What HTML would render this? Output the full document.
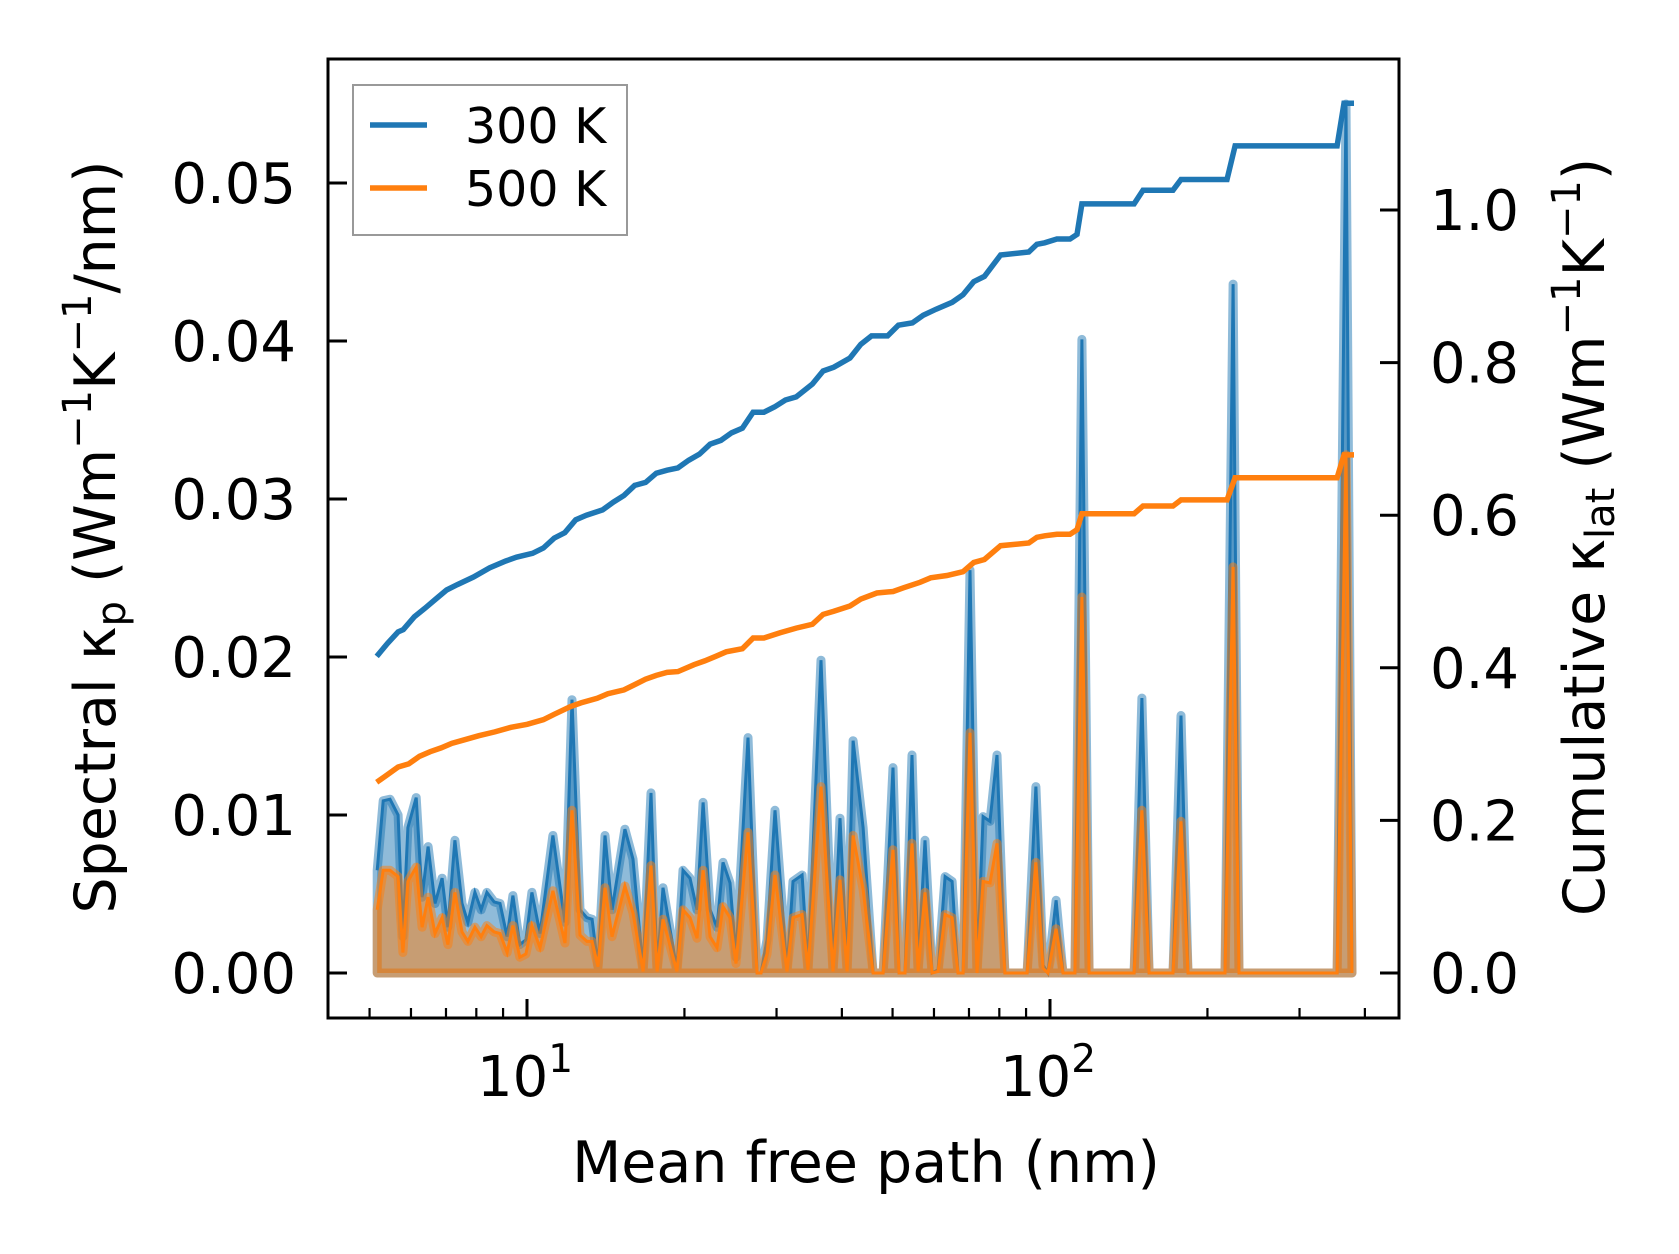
<!DOCTYPE html>
<html><head><meta charset="utf-8"><style>
html,body{margin:0;padding:0;background:#fff;}
svg{display:block;font-family:"DejaVu Sans","Liberation Sans",sans-serif;}
</style></head><body>
<svg id="chart" width="1679" height="1254" viewBox="0 0 1679 1254" xmlns="http://www.w3.org/2000/svg">
<rect width="1679" height="1254" fill="#fff"/>
<g id="plot"></g>
<g id="axes"></g>
</svg>
<script>
// Spectral data (x in nm, y in W m^-1 K^-1 / nm)
const specX = [5.17,5.31,5.47,5.67,5.79,5.92,6.14,6.30,6.47,6.67,6.88,7.06,7.28,7.51,7.71,7.95,8.17,8.38,8.65,8.88,9.16,9.40,9.69,9.95,10.22,10.59,11.21,11.82,12.19,12.63,13.02,13.32,13.67,14.10,14.54,15.39,15.95,16.67,17.26,17.73,18.20,19.35,19.87,20.50,21.14,21.71,22.39,23.08,23.70,24.44,25.10,26.46,27.54,28.02,28.77,29.80,31.42,32.26,33.57,34.46,36.48,38.46,39.67,40.93,42.02,43.91,45.89,47.96,50.10,51.45,52.82,54.47,55.94,57.68,59.51,61.10,63.0,64.98,66.7,68.2,70.3,72.5,74.5,76.8,79.2,82.0,90.4,94.0,97.0,99.1,102.7,105.9,108.3,111.6,115.1,118.8,144.8,149.9,154.7,171.9,178.0,183.6,216.1,223.9,229.8,353.9,368.1,378.0];
const spec300 = [.0065,.0109,.0110,.0100,.0023,.0092,.0111,.0048,.0080,.0044,.0060,.0029,.0084,.0044,.0032,.0051,.0040,.0051,.0045,.0044,.0023,.0049,.0018,.0021,.0051,.0025,.0087,.0032,.0173,.0040,.0035,.0034,.0004,.0087,.0040,.0091,.0072,.0002,.0114,.0002,.0054,.0002,.0065,.0060,.0040,.0108,.0040,.0029,.0070,.0057,.0010,.0149,0,0,.0021,.0103,.0002,.0058,.0062,.0003,.0198,.0002,.0098,.0002,.0147,.0092,0,0,.0130,0,0,.0138,.0002,.0084,0,.0002,.0061,.0058,0,0,.0255,0,.0099,.0096,.0138,0,0,.0118,.0005,0,.0046,0,0,0,.0401,0,0,.0174,0,0,.0163,0,0,.0436,0,0,.0550,0];
const spec500 = [.0040,.0065,.0065,.0061,.0013,.0058,.0067,.0029,.0048,.0025,.0035,.0018,.0051,.0026,.0020,.0029,.0023,.0030,.0026,.0025,.0013,.0030,.0010,.0012,.0030,.0016,.0052,.0019,.0103,.0024,.0020,.0020,.0004,.0054,.0023,.0055,.0038,.0001,.0068,.0001,.0034,.0001,.0040,.0035,.0022,.0065,.0023,.0016,.0042,.0035,.0006,.0089,0,0,.0012,.0062,.0001,.0035,.0037,.0002,.0118,.0001,.0059,.0001,.0087,.0053,0,0,.0078,0,0,.0082,.0001,.0051,0,.0001,.0037,.0035,0,0,.0152,0,.0058,.0057,.0082,0,0,.0070,.0003,0,.0028,0,0,0,.0238,0,0,.0103,0,0,.0096,0,0,.0257,0,0,.0328,0];
// Cumulative data (W m^-1 K^-1)
const cum300X = [5.16,5.41,5.67,5.80,6.09,6.38,6.69,7.02,7.36,7.90,8.48,9.11,9.55,10.25,10.75,11.27,11.81,12.39,12.99,13.95,14.62,15.33,16.07,16.86,17.67,18.53,19.43,20.37,21.36,22.39,23.48,24.61,25.81,27.06,28.38,29.75,31.20,32.71,35.13,36.83,38.61,41.46,43.47,45.58,48.93,51.31,54.57,57.23,60.56,65.02,68.17,71.48,74.92,80.45,91.1,94.4,97.7,103.1,109.2,112.6,115.1,144.8,150.6,171.9,178.0,218.0,225.9,353.9,364.8,381.3];
const cum300 = [.415,.432,.447,.450,.467,.478,.490,.502,.509,.519,.531,.540,.545,.550,.557,.570,.577,.594,.600,.607,.617,.626,.639,.643,.655,.659,.662,.672,.680,.693,.698,.708,.714,.735,.735,.742,.751,.755,.772,.789,.794,.806,.824,.835,.835,.849,.852,.862,.870,.879,.889,.906,.913,.941,.945,.955,.957,.962,.962,.968,1.008,1.008,1.026,1.026,1.040,1.040,1.084,1.084,1.140,1.140];
const cum500X = [5.16,5.41,5.67,5.94,6.23,6.53,6.85,7.18,7.53,8.09,8.68,9.32,10.01,10.75,11.27,12.10,12.68,13.62,14.28,15.33,16.07,16.86,17.67,18.53,19.43,20.86,21.87,22.93,24.04,25.81,27.06,28.38,30.47,32.71,35.13,36.83,38.61,41.46,43.47,46.67,50.11,52.53,56.41,59.14,63.50,68.17,71.48,74.92,80.45,91.1,94.4,97.7,103.1,109.2,112.6,115.1,144.8,150.6,171.9,178.0,218.0,225.9,353.9,364.8,381.3];
const cum500 = [.250,.260,.270,.274,.284,.290,.295,.301,.305,.311,.316,.322,.326,.332,.339,.349,.354,.360,.366,.371,.378,.385,.390,.394,.395,.404,.409,.415,.421,.425,.439,.439,.446,.452,.457,.470,.474,.481,.490,.498,.500,.505,.512,.518,.521,.526,.538,.542,.560,.5636,.571,.573,.575,.575,.581,.602,.602,.612,.612,.620,.620,.649,.649,.679,.679];
const leftTicks = [0,0.01,0.02,0.03,0.04,0.05];
const leftTickLabels = ["0.00","0.01","0.02","0.03","0.04","0.05"];
const rightTicks = [0,0.2,0.4,0.6,0.8,1.0];
const rightTickLabels = ["0.0","0.2","0.4","0.6","0.8","1.0"];
const xMajor = [10,100];
const xMinor = [5,6,7,8,9,20,30,40,50,60,70,80,90,200,300,400];

const NS = "http://www.w3.org/2000/svg";
const L = 328, R = 1399, T = 59, B = 1018;
function xPx(v){ return 527 + (Math.log10(v) - 1) * 523; }
function yL(v){ return 973 - v * 15800; }
function yR(v){ return 973 - v * 763; }
function mk(tag, attrs, parent){ const e = document.createElementNS(NS, tag); for (const k in attrs) e.setAttribute(k, attrs[k]); parent.appendChild(e); return e; }

const plot = document.getElementById('plot');
const axes = document.getElementById('axes');

function areaPath(xs, ys){
  let d = 'M' + xPx(xs[0]).toFixed(1) + ',' + yL(0).toFixed(1);
  for (let i = 0; i < xs.length; i++) d += 'L' + xPx(xs[i]).toFixed(1) + ',' + yL(ys[i]).toFixed(1);
  d += 'L' + xPx(xs[xs.length-1]).toFixed(1) + ',' + yL(0).toFixed(1) + 'Z';
  return d;
}
function linePath(xs, ys, yf){
  let d = '';
  for (let i = 0; i < xs.length; i++) d += (i ? 'L' : 'M') + xPx(xs[i]).toFixed(1) + ',' + yf(ys[i]).toFixed(1);
  return d;
}

const a300 = mk('path', {d: areaPath(specX, spec300), fill: '#1f77b4', 'fill-opacity': 0.5, stroke: '#1f77b4', 'stroke-opacity': 0.5, 'stroke-width': 9, 'stroke-linejoin': 'round'}, plot);


const l300 = mk('path', {d: linePath(specX, spec300, yL), fill: 'none', stroke: '#1f77b4', 'stroke-width': 3}, plot);


const a500 = mk('path', {d: areaPath(specX, spec500), fill: '#ff7f0e', 'fill-opacity': 0.5, stroke: '#ff7f0e', 'stroke-opacity': 0.5, 'stroke-width': 9, 'stroke-linejoin': 'round'}, plot);


const l500 = mk('path', {d: linePath(specX, spec500, yL), fill: 'none', stroke: '#ff7f0e', 'stroke-width': 3}, plot);


const c300 = mk('path', {d: linePath(cum300X, cum300, yR), fill: 'none', stroke: '#1f77b4', 'stroke-width': 5.5}, plot);


const c500 = mk('path', {d: linePath(cum500X, cum500, yR), fill: 'none', stroke: '#ff7f0e', 'stroke-width': 5.5}, plot);



// frame
const frame = mk('rect', {x: L, y: T, width: R-L, height: B-T, fill: 'none', stroke: '#000', 'stroke-width': 3}, axes);



leftTicks.forEach((v, i) => {
  const y = yL(v);
  const t = mk('line', {x1: L, x2: L+19, y1: y, y2: y, stroke: '#000', 'stroke-width': 3}, axes);
  
  
  const tx = mk('text', {x: 296, y: y + 20, 'font-size': 56, 'text-anchor': 'end'}, axes);
  tx.textContent = leftTickLabels[i];
  
  
});
rightTicks.forEach((v, i) => {
  const y = yR(v);
  const t = mk('line', {x1: R-19, x2: R, y1: y, y2: y, stroke: '#000', 'stroke-width': 3}, axes);
  
  
  const tx = mk('text', {x: 1430, y: y + 20, 'font-size': 56}, axes);
  tx.textContent = rightTickLabels[i];
  
  
});
xMajor.forEach((v) => {
  const x = xPx(v);
  const t = mk('line', {x1: x, x2: x, y1: B, y2: B-19, stroke: '#000', 'stroke-width': 3}, axes);
  
  
  const tx = mk('text', {x: x - 2, y: 1096, 'font-size': 56, 'text-anchor': 'middle'}, axes);
  
  
  const ts1 = mk('tspan', {}, tx); ts1.textContent = '10';
  const ts2 = mk('tspan', {'font-size': 39, dy: -24}, tx); ts2.textContent = String(Math.round(Math.log10(v)));
});
xMinor.forEach((v) => {
  const x = xPx(v);
  const t = mk('line', {x1: x, x2: x, y1: B, y2: B-10, stroke: '#000', 'stroke-width': 2.2}, axes);
  
  
});
</script>
<svg style="position:absolute;left:0;top:0" width="1679" height="1254" viewBox="0 0 1679 1254" xmlns="http://www.w3.org/2000/svg" font-family="DejaVu Sans, Liberation Sans, sans-serif">
<text x="866" y="1182" font-size="57" text-anchor="middle">Mean free path (nm)</text>
<text transform="translate(115,537) rotate(-90)" font-size="57" text-anchor="middle">Spectral κ<tspan font-size="40" dy="10">p</tspan><tspan dy="-10"> (Wm</tspan><tspan font-size="40" dy="-24">−1</tspan><tspan dy="24">K</tspan><tspan font-size="40" dy="-24">−1</tspan><tspan dy="24">/nm)</tspan></text>
<text transform="translate(1604,537) rotate(-90)" font-size="57" text-anchor="middle">Cumulative κ<tspan font-size="40" dy="10">lat</tspan><tspan dy="-10"> (Wm</tspan><tspan font-size="40" dy="-24">−1</tspan><tspan dy="24">K</tspan><tspan font-size="40" dy="-24">−1</tspan><tspan dy="24">)</tspan></text>
<g>
<rect x="353" y="85" width="274" height="150" fill="#fff" fill-opacity="0.8" stroke="#999" stroke-width="2"/>
<line x1="370" x2="427" y1="125" y2="125" stroke="#1f77b4" stroke-width="5.5"/>
<text x="465" y="143" font-size="49">300 K</text>
<line x1="370" x2="427" y1="188" y2="188" stroke="#ff7f0e" stroke-width="5.5"/>
<text x="465" y="206" font-size="49">500 K</text>
</g>
</svg>
</body></html>
